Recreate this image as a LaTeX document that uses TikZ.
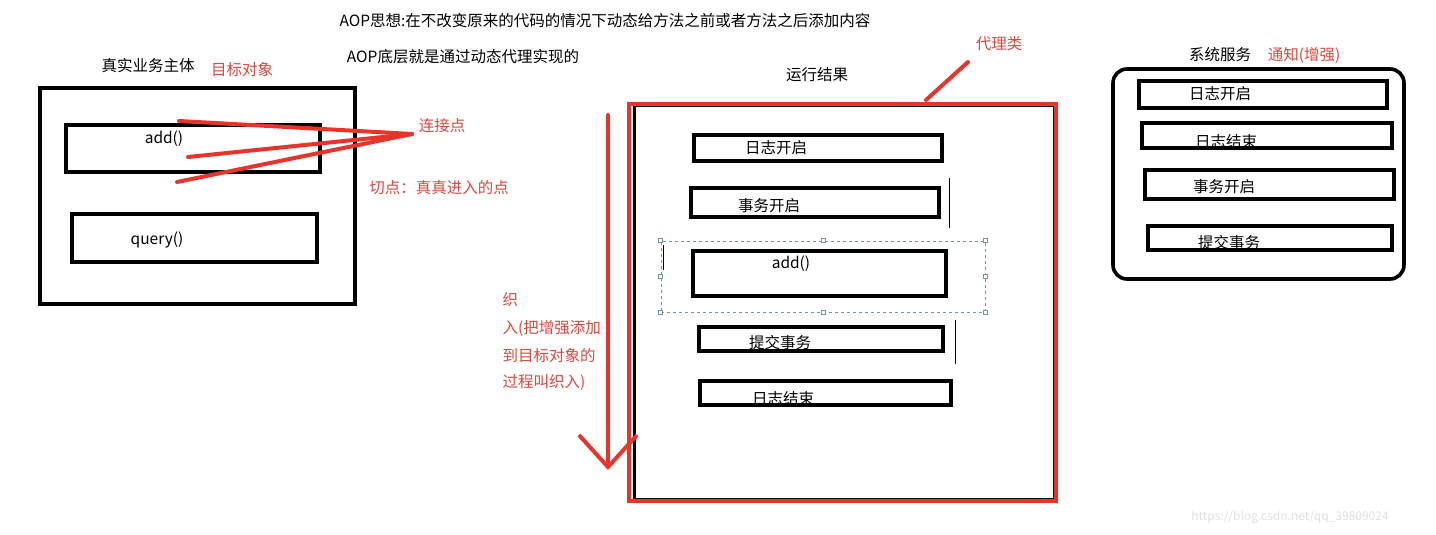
\documentclass[tikz,border=0pt]{standalone}
\usepackage{fontspec}
\setmainfont{Noto Sans CJK SC}
\usetikzlibrary{arrows.meta, positioning}
\definecolor{penred}{RGB}{232,52,42}
\definecolor{notered}{RGB}{218,72,62}
\definecolor{selblue}{RGB}{110,150,175}

\begin{document}
\begin{tikzpicture}[x=1pt, y=-1pt, font=\fontsize{15.5}{18}\selectfont,
		blk/.style={draw, line width=3.6pt, inner sep=0pt},
		redtxt/.style={text=notered},
		pen/.style={draw=penred, line width=4pt, line cap=round},
		handle/.style={draw=selblue, fill=white, line width=0.5pt, minimum size=4pt, inner sep=0pt}]
				\useasboundingbox[fill=white] (0,0) rectangle (1436,535);

				\node (idea) at (605, 21) {AOP思想:在不改变原来的代码的情况下动态给方法之前或者方法之后添加内容};
				\node (base) at (463, 57) {AOP底层就是通过动态代理实现的};

				% target object
				\node (tgtlbl) at (148, 66) {真实业务主体};
				\node[redtxt] (tgtnote) at (242, 70) {目标对象};
				\node[blk, minimum width=315pt, minimum height=216pt] (target) at (197.5, 196) {};
				\node[blk, minimum width=254pt, minimum height=47pt] (tadd) at (193, 148.5) {};
				\node[blk, minimum width=245pt, minimum height=48pt] (tquery) at (194.5, 238) {};
				\node (taddtxt) at (164, 139) {add()};
				\node (tquerytxt) at (157, 240) {query()};

				\node[redtxt] (joinpt) at (442, 126) {连接点};
				\node[redtxt] (cutpt) at (439, 188) {切点：真真进入的点};
				\coordinate (apex) at (412, 134);
				\coordinate (jp1) at (179, 121);
				\coordinate (jp2) at (188, 157);
				\coordinate (jp3) at (177, 182);
				\draw[pen] (apex) -- (jp1);
				\draw[pen] (apex) -- (jp2);
				\draw[pen] (apex) -- (jp3);

				% proxy
				\node (runlbl) at (817, 75) {运行结果};
				\node[redtxt] (proxynote) at (999, 44) {代理类};
				\node[draw, line width=3pt, minimum width=420pt, minimum height=394pt, inner sep=0pt] (proxyblk) at (844, 302) {};
				\node[draw=penred, line width=4pt, minimum width=427pt, minimum height=397pt, inner sep=0pt] (proxy) at (842.5, 302.5) {};
				\coordinate (proxytip) at (926, 100);
				\coordinate (proxytail) at (968, 62);
				\draw[pen] (proxytail) -- (proxytip);

				\node[blk, minimum width=248pt, minimum height=26pt] (plogon) at (818, 148) {};
				\node[blk, minimum width=248pt, minimum height=29pt] (ptxon) at (815, 202.5) {};
				\node[draw=selblue, dashed, line width=0.8pt, minimum width=324pt, minimum height=71pt, inner sep=0pt] (sel) at (823, 276.5) {};
				\foreach \a in {north west, north, north east, east, south east, south, south west, west}
					\node[handle] at (sel.\a) {};
				\node[blk, minimum width=253pt, minimum height=45pt] (padd) at (819.5, 273.5) {};
				\node[blk, minimum width=244pt, minimum height=24pt] (pcommit) at (821, 339) {};
				\node[blk, minimum width=251pt, minimum height=24pt] (plogoff) at (825.5, 393) {};
				\node (plogontxt) at (776, 148) {日志开启};
				\node (ptxontxt) at (769, 206) {事务开启};
				\node (paddtxt) at (791, 264) {add()};
				\node (pcommittxt) at (780, 343) {提交事务};
				\node (plogofftxt) at (783, 399) {日志结束};
				\draw[line width=0.8pt] (949, 178) -- (949, 228);
				\draw[line width=0.8pt] (955, 320) -- (955, 364);
				\draw[line width=0.8pt] (663, 245) -- (663, 270);

				% weaving
				\node[redtxt, anchor=west] (weave1) at (499, 300) {织};
				\node[redtxt, anchor=west] (weave2) at (499, 328) {入(把增强添加};
				\node[redtxt, anchor=west] (weave3) at (499, 356) {到目标对象的};
				\node[redtxt, anchor=west] (weave4) at (499, 383) {过程叫织入)};
				\coordinate (wtop) at (608, 115);
				\coordinate (wbot) at (608, 470);
				\draw[pen, -{Straight Barb[length=32pt, width=58pt]}] (wtop) -- (wbot);

				% system services
				\node (svclbl) at (1220, 55) {系统服务};
				\node[redtxt] (svcnote) at (1304, 55) {通知(增强)};
				\node[blk, rounded corners=14pt, minimum width=291pt, minimum height=210pt] (svc) at (1258.5, 174) {};
				\node[blk, minimum width=248pt, minimum height=27pt] (slogon) at (1263, 94.5) {};
				\node[blk, minimum width=250pt, minimum height=25pt] (slogoff) at (1267, 135.5) {};
				\node[blk, minimum width=249pt, minimum height=29pt] (stxon) at (1269.5, 184.5) {};
				\node[blk, minimum width=244pt, minimum height=24pt] (scommit) at (1270, 238) {};
				\node (slogontxt) at (1220, 94) {日志开启};
				\node (slogofftxt) at (1226, 142) {日志结束};
				\node (stxontxt) at (1224, 187) {事务开启};
				\node (scommittxt) at (1229, 243) {提交事务};

				\node[text=black!12, font=\fontsize{12}{14}\selectfont] (mark) at (1290, 517) {https://blog.csdn.net/qq\_39809024};
			\end{tikzpicture}
\end{document}
